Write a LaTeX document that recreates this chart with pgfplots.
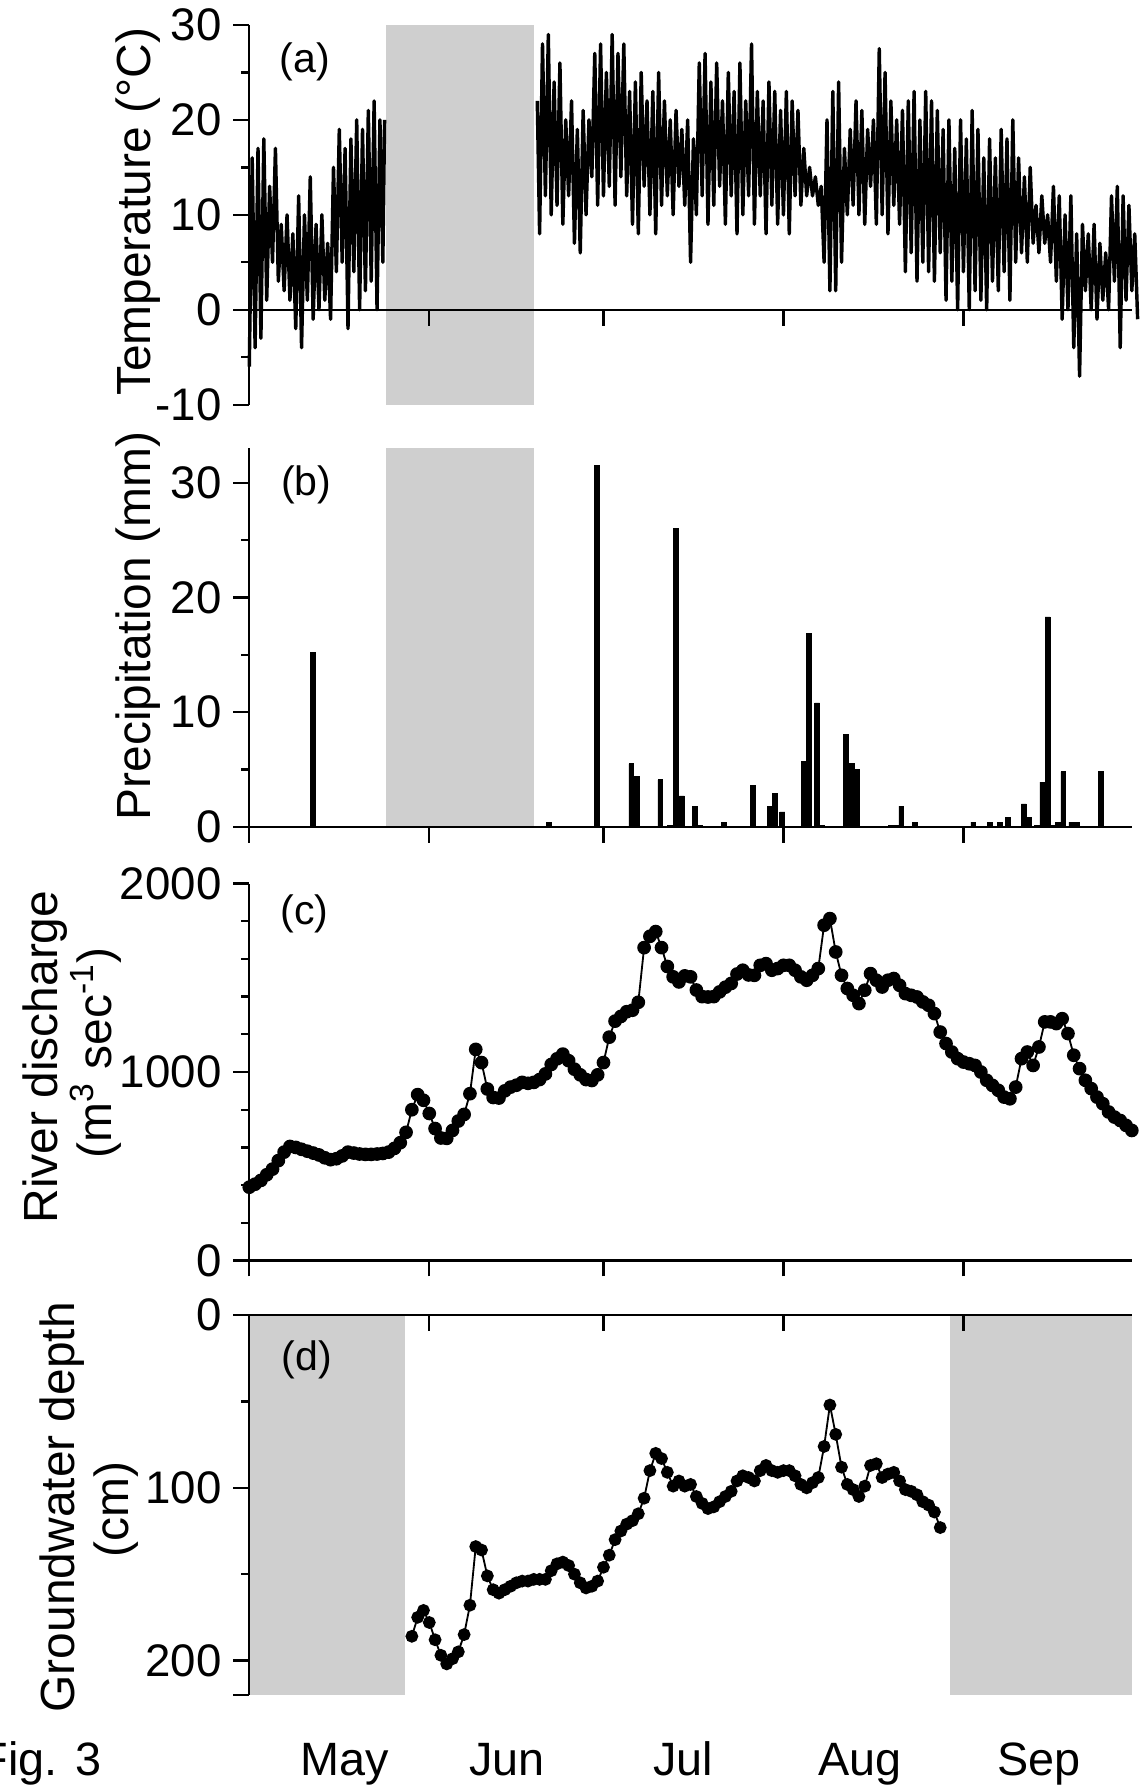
\documentclass[border=0pt]{standalone}
\usepackage{fontspec}
\setmainfont{Liberation Sans}
\usepackage{pgfplots}
\pgfplotsset{compat=1.18}
\definecolor{hatch}{gray}{0.81}
\pgfplotsset{
  panel/.style={
    scale only axis, width=386.75pt, xmin=0, xmax=152,
    axis on top, clip=false, anchor=south west,
    axis line style={line width=1pt, black},
    tick style={line width=1pt, black},
    major tick length=7pt, minor tick length=3.5pt,
    tick align=outside,
    xtick=\empty, minor xtick={0,7,...,147},
    extra x ticks={0,31,61,92,123}, extra x tick labels={},
    yticklabel style={font=\fontsize{20}{24}\selectfont, inner sep=0pt, xshift=-5pt},
  },
}
\begin{document}
\begin{tikzpicture}
\useasboundingbox (0pt,0pt) rectangle (501pt,784pt);

% ---------------- (a) temperature
\begin{axis}[panel, at={(109.25pt,606.65pt)}, height=166.4pt,
  ymin=-10, ymax=30, axis x line=none, axis y line*=left,
  ytick={-10,0,10,20,30}, yticklabels={-10,0,10,20,30}, minor ytick={-5,5,15,25}]
\addplot[fill=hatch, draw=none, forget plot] coordinates {(23.5,-10) (49,-10) (49,30) (23.5,30)} -- cycle;
\addplot[black, line width=1.5pt, line join=round] table {
0 -6
0.5 16
1 -4
1.5 17
2 -3
2.5 18
3 1
3.5 13
4 5
4.5 17
5 3
5.5 9
6 2
6.5 10
7 1
7.5 8
8 -2
8.5 12
9 -4
9.5 10
10 1
10.5 14
11 -1
11.5 9
12 0
12.5 10
13 1
13.5 7
14 -1
14.5 15
15 4
15.5 19
16 5
16.5 17
17 -2
17.5 18
18 4
18.5 20
19 0
19.5 19
20 2
20.5 21
21 3
21.5 22
22 0
22.5 20
23 5
23.3 20
};
\addplot[black, line width=1.5pt, line join=round] table {
49.6 22
50 8
50.5 28
51 12
51.5 29
52 10
52.5 24
53 11
53.5 26
54 9
54.5 20
55 12
55.5 22
56 7
56.5 19
57 6
57.5 21
58 10
58.5 20
59 14
59.5 27
60 11
60.5 28
61 12
61.5 25
62 13
62.5 29
63 11
63.5 27
64 14
64.5 28
65 12
65.5 23
66 9
66.5 24
67 8
67.5 25
68 13
68.5 22
69 10
69.5 23
70 8
70.5 25
71 11
71.5 22
72 12
72.5 20
73 10
73.5 21
74 13
74.5 19
75 11
75.5 20
76 5
76.5 18
77 10
77.5 26
78 12
78.5 27
79 9
79.5 24
80 11
80.5 26
81 13
81.5 22
82 9
82.5 25
83 12
83.5 23
84 8
84.5 26
85 10
85.5 22
86 12
86.5 28
87 9
87.5 23
88 12
88.5 22
89 8
89.5 24
90 11
90.5 23
91 9
91.5 21
92 10
92.5 23
93 8
93.5 22
94 12
94.5 21
95 11
95.5 17
96 12
96.5 15
97 12
97.5 14
98 11
98.5 13
99 5
99.5 20
100 2
100.5 23
101 2
101.5 24
102 5
102.5 17
103 10
103.5 19
104 11
104.5 22
105 10
105.5 21
106 9
106.5 19
107 13
107.5 20
108 9
108.5 27.5
109 10
109.5 25
110 8
110.5 22
111 11
111.5 20
112 9
112.5 21
113 4
113.5 22
114 6
114.5 23
115 3
115.5 20
116 5
116.5 23
117 4
117.5 22
118 3
118.5 21
119 6
119.5 19
120 1
120.5 20
121 3
121.5 17
122 0
122.5 20
123 4
123.5 18
124 0
124.5 21
125 2
125.5 19
126 1
126.5 16
127 0
127.5 18
128 3
128.5 16
129 2
129.5 19
130 4
130.5 18
131 1
131.5 20
132 5
132.5 16
133 6
133.5 14
134 5
134.5 15
135 7
135.5 11
136 6
136.5 12
137 7
137.5 10
138 5
138.5 13
139 3
139.5 12
140 -1
140.5 10
141 0
141.5 12
142 -4
142.5 8
143 -7
143.5 9
144 2
144.5 8
145 0
145.5 9
146 -1
146.5 7
147 1
147.5 6
148 0
148.5 12
149 3
149.5 13
150 -4
150.5 12
151 1
151.5 11
152 2
152.5 8
153 -1
};
\end{axis}
% zero line of (a) with its ticks pointing down
\begin{axis}[panel, at={(109.25pt,648.25pt)}, height=124.8pt,
  ymin=0, ymax=30, axis x line*=bottom, axis y line=none, ytick=\empty]
\addplot[draw=none, forget plot] coordinates {(0,0) (152,0)};
\end{axis}

% ---------------- (b) precipitation
\begin{axis}[panel, at={(109.25pt,421.65pt)}, height=165.85pt,
  ymin=0, ymax=33, axis x line*=bottom, axis y line*=left,
  ytick={0,10,20,30}, yticklabels={0,10,20,30}, minor ytick={5,15,25}]
\addplot[fill=hatch, draw=none, forget plot] coordinates {(23.5,0) (49,0) (49,33) (23.5,33)} -- cycle;
\addplot[ybar, bar width=0.85, fill=black, draw=black, line width=0.3pt] coordinates {
(10.9,15.2) (51.6,0.4) (59.9,31.5) (65.8,5.5) (66.7,4.4) (70.8,4.1) (72.5,0.15) (73.5,26.0)
(74.5,2.7) (76.8,1.8) (77.6,0.15) (81.8,0.4) (86.8,3.6) (89.6,1.8) (90.5,2.9) (91.8,1.3)
(95.5,5.7) (96.4,16.9) (97.8,10.8) (98.7,0.15) (102.8,8.05) (103.7,5.5) (104.6,5.0)
(110.5,0.15) (111.5,0.15) (112.3,1.8) (114.6,0.4) (124.7,0.4) (127.5,0.4) (129.3,0.4)
(130.6,0.85) (133.4,2.0) (134.3,0.85) (135.6,0.15) (136.6,3.9) (137.5,18.3) (138.4,0.15)
(139.3,0.4) (140.2,4.8) (141.6,0.4) (142.5,0.4) (146.6,4.8)};
\end{axis}

% ---------------- (c) discharge
\begin{axis}[panel, at={(109.25pt,231.6pt)}, height=165.2pt,
  ymin=0, ymax=2000, axis x line*=bottom, axis y line*=left,
  ytick={0,1000,2000}, yticklabels={0,1000,2000},
  minor ytick={200,400,600,800,1200,1400,1600,1800}]
\addplot[black, line width=0.8pt, mark=*, mark size=2.6pt, mark options={fill=black}] table {
0 389
1 405
2 425
3 455
4 485
5 530
6 575
7 605
8 600
9 590
10 580
11 570
12 560
13 545
14 535
15 540
16 555
17 575
18 570
19 565
20 563
21 563
22 565
23 568
24 575
25 595
26 625
27 680
28 800
29 880
30 850
31 780
32 700
33 650
34 648
35 690
36 740
37 775
38 885
39 1120
40 1050
41 910
42 865
43 862
44 900
45 920
46 930
47 945
48 940
49 945
50 960
51 990
52 1040
53 1070
54 1095
55 1060
56 1015
57 985
58 960
59 955
60 985
61 1050
62 1185
63 1270
64 1295
65 1320
66 1328
67 1370
68 1660
69 1720
70 1745
71 1660
72 1560
73 1505
74 1478
75 1510
76 1505
77 1435
78 1400
79 1398
80 1400
81 1425
82 1450
83 1470
84 1520
85 1540
86 1515
87 1513
88 1566
89 1575
90 1540
91 1549
92 1566
93 1566
94 1540
95 1505
96 1487
97 1513
98 1549
99 1779
100 1814
101 1637
102 1513
103 1443
104 1407
105 1363
106 1434
107 1522
108 1487
109 1451
110 1487
111 1496
112 1460
113 1416
114 1407
115 1398
116 1372
117 1354
118 1310
119 1212
120 1151
121 1106
122 1071
123 1053
124 1044
125 1035
126 1000
127 956
128 929
129 903
130 867
131 858
132 920
133 1071
134 1106
135 1035
136 1133
137 1266
138 1266
139 1257
140 1283
141 1204
142 1089
143 1018
144 956
145 912
146 867
147 832
148 788
149 761
150 743
151 717
152 690
};
\end{axis}

% ---------------- (d) groundwater
\begin{axis}[panel, at={(109.25pt,41.2pt)}, height=166.4pt,
  ymin=0, ymax=220, y dir=reverse, axis x line*=top, axis y line*=left,
  xtick align=inside, ytick align=outside,
  ytick={0,100,200}, yticklabels={0,100,200}, minor ytick={50,150},
  extra y ticks={220}, extra y tick labels={}]
\addplot[fill=hatch, draw=none, forget plot] coordinates {(0,0) (26.8,0) (26.8,220) (0,220)} -- cycle;
\addplot[fill=hatch, draw=none, forget plot] coordinates {(120.6,0) (152,0) (152,220) (120.6,220)} -- cycle;
\addplot[black, line width=0.8pt, mark=*, mark size=2.4pt, mark options={fill=black}] table {
28 186
29 175
30 171
31 178
32 188
33 197
34 202
35 199
36 195
37 185
38 168
39 134
40 136
41 151
42 159
43 161
44 159
45 157
46 155
47 154
48 154
49 153
50 153
51 153
52 148
53 144
54 143
55 145
56 150
57 155
58 158
59 157
60 154
61 146
62 139
63 130
64 125
65 121
66 119
67 115
68 106
69 90
70 80
71 83
72 91
73 99
74 96
75 99
76 98
77 105
78 109
79 112
80 111
81 108
82 105
83 102
84 96
85 93
86 94
87 96
88 90
89 87
90 90
91 91
92 90
93 90
94 93
95 98
96 100
97 97
98 94
99 76
100 52
101 69
102 88
103 98
104 101
105 105
106 99
107 87
108 86
109 94
110 92
111 91
112 96
113 101
114 102
115 104
116 108
117 110
118 114
119 123
};
\end{axis}

% ---------------- texts
\node[rotate=90, anchor=base, font=\fontsize{21}{24}\selectfont] at (66pt,691.15pt) {Temperature (°C)};
\node[rotate=90, anchor=base, font=\fontsize{21}{24}\selectfont] at (66pt,509.6pt) {Precipitation (mm)};
\node[rotate=90, anchor=base, font=\fontsize{21}{24}\selectfont] at (25.15pt,320.75pt) {River discharge};
\node[rotate=90, anchor=base, font=\fontsize{21}{24}\selectfont] at (48.65pt,322.6pt) {(m\textsuperscript{3} sec\textsuperscript{-1})};
\node[rotate=90, anchor=base, font=\fontsize{21}{24}\selectfont] at (32.7pt,123.5pt) {Groundwater depth};
\node[rotate=90, anchor=base, font=\fontsize{21}{24}\selectfont] at (56.2pt,122.5pt) {(cm)};

\node[inner sep=0pt, font=\fontsize{18}{20}\selectfont] at (133.5pt,757pt) {(a)};
\node[inner sep=0pt, font=\fontsize{18}{20}\selectfont] at (134.25pt,571.5pt) {(b)};
\node[inner sep=0pt, font=\fontsize{18}{20}\selectfont] at (133.4pt,383.6pt) {(c)};
\node[inner sep=0pt, font=\fontsize{18}{20}\selectfont] at (134.5pt,187.85pt) {(d)};

\node[anchor=base, inner sep=0pt, font=\fontsize{20.5}{24}\selectfont] at (151pt,5.85pt) {May};
\node[anchor=base, inner sep=0pt, font=\fontsize{20.5}{24}\selectfont] at (222.3pt,5.85pt) {Jun};
\node[anchor=base, inner sep=0pt, font=\fontsize{20.5}{24}\selectfont] at (299.5pt,5.85pt) {Jul};
\node[anchor=base, inner sep=0pt, font=\fontsize{20.5}{24}\selectfont] at (376.8pt,5.85pt) {Aug};
\node[anchor=base, inner sep=0pt, font=\fontsize{20.5}{24}\selectfont] at (455.25pt,5.85pt) {Sep};
\node[anchor=base east, inner sep=0pt, font=\fontsize{20.5}{24}\selectfont] at (44.5pt,5.85pt) {Fig. 3};
\end{tikzpicture}
\end{document}
